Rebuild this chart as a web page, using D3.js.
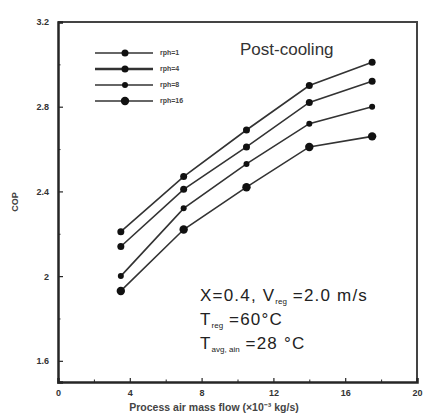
<!DOCTYPE html>
<html>
<head>
<meta charset="utf-8">
<script src="https://d3js.org/d3.v7.min.js"></script>
<style>
  body { margin: 0; background: #fff; }
  svg { display: block; }
</style>
</head>
<body>
<div id="chart"></div>
<script>
var margin = {top: 22, right: 7, bottom: 35, left: 58},
    width = 424 - margin.left - margin.right,
    height = 417 - margin.top - margin.bottom;

// process air mass flow positions
var flows = [3.5, 7, 10.5, 14, 17.5];

// COP for each rotation speed
var seriesNames = ["rph=1", "rph=4", "rph=8", "rph=16"];
var cop1 = [2.21, 2.47, 2.69, 2.90, 3.01];
var cop4 = [2.14, 2.41, 2.61, 2.82, 2.92];
var cop8 = [2.00, 2.32, 2.53, 2.72, 2.80];
var cop16 = [1.93, 2.22, 2.42, 2.61, 2.66];

var xTicks = [0, 4, 8, 12, 16, 20];
var xMinor = [2, 6, 10, 14, 18];
var yTicks = [1.6, 2, 2.4, 2.8, 3.2];
var yTickLabels = ["1.6", "2", "2.4", "2.8", "3.2"];
var yMinor = [1.8, 2.2, 2.6, 3.0];

var allSeries = [cop1, cop4, cop8, cop16];
var markerR = [3.5, 3.5, 3, 4.2];

var ink = "#262626";
var font = "Liberation Sans, Arial, sans-serif";

var svg = d3.select("#chart").append("svg")
    .attr("width", 424)
    .attr("height", 417)
    .append("g")
    .attr("transform", "translate(" + margin.left + "," + margin.top + ")");

var x = d3.scaleLinear().domain([0, 20]).range([0, width]);
var y = d3.scaleLinear().domain([1.5, 3.2]).range([height, 0]);

// frame top and right
svg.append("path")
    .attr("d", "M0,0H" + width + "V" + height)
    .attr("fill", "none")
    .attr("stroke", "#444")
    .attr("stroke-width", 2);

// x axis, ticks inward
var xAxis = svg.append("g")
    .attr("transform", "translate(0," + height + ")")
    .call(d3.axisBottom(x).tickValues(xTicks).tickSize(-4).tickPadding(8).tickFormat(d3.format("d")));
xAxis.select(".domain").attr("stroke", ink).attr("stroke-width", 2.5);
xAxis.selectAll(".tick line").attr("stroke", ink).attr("stroke-width", 1.2);
xAxis.selectAll(".tick text")
    .style("font-family", font)
    .style("font-size", "9px")
    .style("font-weight", "bold")
    .attr("fill", "#333");

svg.append("g")
    .attr("transform", "translate(0," + height + ")")
    .call(d3.axisBottom(x).tickValues(xMinor).tickSize(-2.5).tickFormat(""))
    .call(g => g.select(".domain").remove())
    .selectAll(".tick line").attr("stroke", ink);

// y axis, ticks inward
var yAxis = svg.append("g")
    .call(d3.axisLeft(y).tickValues(yTicks).tickSize(-5).tickPadding(9)
        .tickFormat(function(d, i) { return yTickLabels[i]; }));
yAxis.select(".domain").attr("stroke", ink).attr("stroke-width", 2.5);
yAxis.selectAll(".tick line").attr("stroke", ink).attr("stroke-width", 1.2);
yAxis.selectAll(".tick text")
    .style("font-family", font)
    .style("font-size", "9px")
    .style("font-weight", "bold")
    .attr("fill", "#333");

svg.append("g")
    .call(d3.axisLeft(y).tickValues(yMinor).tickSize(-2.5).tickFormat(""))
    .call(g => g.select(".domain").remove())
    .selectAll(".tick line").attr("stroke", ink);

// axis titles
svg.append("text")
    .attr("x", 156)
    .attr("y", height + 29)
    .attr("text-anchor", "middle")
    .style("font-family", font)
    .style("font-size", "10.5px")
    .style("font-weight", "bold")
    .attr("fill", "#444")
    .text("Process air mass flow (×10⁻³ kg/s)");

svg.append("text")
    .attr("transform", "translate(-40,180) rotate(-90)")
    .attr("text-anchor", "middle")
    .style("font-family", font)
    .style("font-size", "9px")
    .style("font-weight", "bold")
    .attr("fill", "#444")
    .text("COP");

// lines and markers
var line = d3.line()
    .x(function(d, i) { return x(flows[i]); })
    .y(function(d) { return y(d); });

allSeries.forEach(function(s, k) {
    svg.append("path")
        .datum(s)
        .attr("d", line)
        .attr("fill", "none")
        .attr("stroke", "#333")
        .attr("stroke-width", 1.6);

    svg.selectAll(null)
        .data(s)
        .enter()
        .append("circle")
        .attr("cx", function(d, i) { return x(flows[i]); })
        .attr("cy", function(d) { return y(d); })
        .attr("r", markerR[k])
        .attr("fill", "#111");
});

// legend
var legendY = [31, 47, 63, 79];
var legend = svg.append("g");
seriesNames.forEach(function(name, k) {
    legend.append("line")
        .attr("x1", 37).attr("x2", 95)
        .attr("y1", legendY[k]).attr("y2", legendY[k])
        .attr("stroke", "#333")
        .attr("stroke-width", k == 1 ? 2.4 : 1.6);
    legend.append("circle")
        .attr("cx", 67).attr("cy", legendY[k])
        .attr("r", markerR[k])
        .attr("fill", "#111");
    legend.append("text")
        .attr("x", 102).attr("y", legendY[k])
        .attr("dy", "0.35em")
        .style("font-family", font)
        .style("font-size", "7px")
        .style("font-weight", "bold")
        .attr("fill", "#444")
        .text(name);
});

// title in plot
svg.append("text")
    .attr("x", 182)
    .attr("y", 33)
    .style("font-family", font)
    .style("font-size", "17px")
    .attr("fill", "#333")
    .text("Post-cooling");

// operating conditions
var note = svg.append("g")
    .style("font-family", font)
    .style("letter-spacing", "1.2px")
    .attr("fill", "#222");

var t1 = note.append("text").attr("x", 142).attr("y", 279).style("font-size", "17px");
t1.append("tspan").text("X=0.4, V");
t1.append("tspan").attr("dy", 3).style("font-size", "8px").style("letter-spacing", "0px").text("reg");
t1.append("tspan").attr("dy", -3).text(" =2.0 m/s");

var t2 = note.append("text").attr("x", 142).attr("y", 303).style("font-size", "17px");
t2.append("tspan").text("T");
t2.append("tspan").attr("dy", 3).style("font-size", "8px").style("letter-spacing", "0px").text("reg");
t2.append("tspan").attr("dy", -3).text(" =60°C");

var t3 = note.append("text").attr("x", 142).attr("y", 327).style("font-size", "17px");
t3.append("tspan").text("T");
t3.append("tspan").attr("dy", 3).style("font-size", "8px").style("letter-spacing", "0px").text("avg, ain");
t3.append("tspan").attr("dy", -3).text(" =28 °C");
</script>
</body>
</html>
